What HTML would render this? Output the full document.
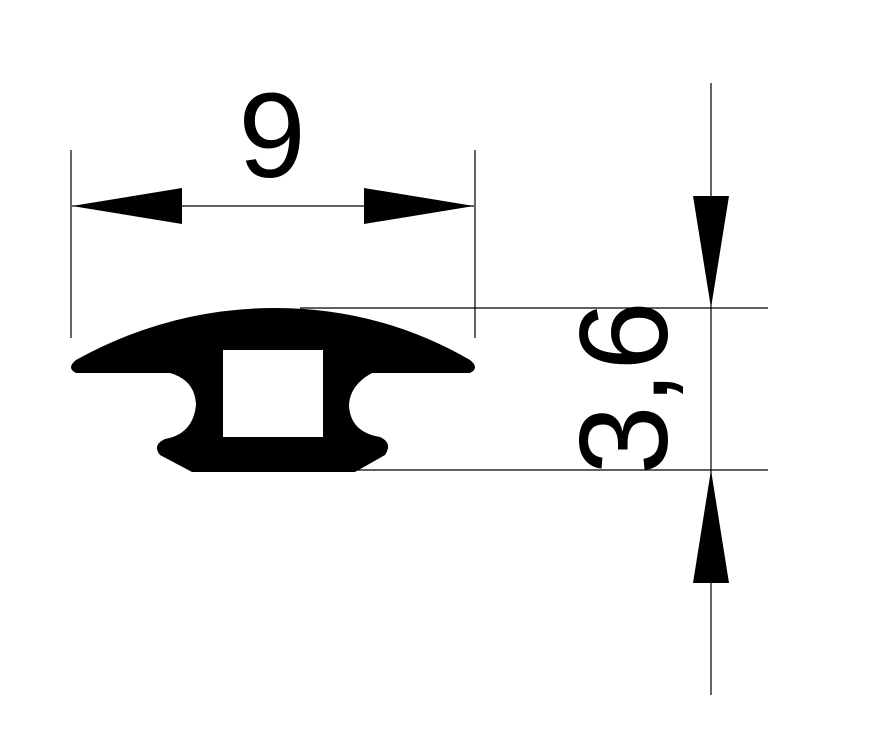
<!DOCTYPE html>
<html><head><style>html,body{margin:0;padding:0;background:#fff;}svg{display:block}</style></head>
<body>
<svg width="874" height="751" viewBox="0 0 874 751" xmlns="http://www.w3.org/2000/svg">
<rect width="874" height="751" fill="#fff"/>
<g stroke="#000" stroke-width="1.2" fill="none">
<line x1="71" y1="150" x2="71" y2="338"/>
<line x1="475" y1="150" x2="475" y2="338"/>
<line x1="72" y1="206" x2="474" y2="206"/>
<line x1="711" y1="83" x2="711" y2="695"/>
<line x1="300" y1="308" x2="768" y2="308"/>
<line x1="355" y1="470" x2="768" y2="470"/>
</g>
<g fill="#000">
<polygon points="72,206 182,188 182,224"/>
<polygon points="474,206 364,188 364,224"/>
<polygon points="711,308 693,196 729,196"/>
<polygon points="711,470 693,583 729,583"/>
<path d="M275,308 Q380,308 470,360 Q480,368 470,373 L372,373 Q350,385 349,405 Q350,432 380,437 Q393,443 385,455 L355,472 L192,472 L160,455 Q152,445 165,439 Q193,434 196,405 Q195,380 170,373 L76,373 Q66,368 76,360 Q170,308 275,308 Z M223,350 L223,437 L323,437 L323,350 Z" fill-rule="evenodd"/>
<text x="272" y="177" font-family="Liberation Sans, sans-serif" font-size="121" text-anchor="middle">9</text>
<text transform="translate(667,388) rotate(-90)" font-family="Liberation Sans, sans-serif" font-size="125" text-anchor="middle">3,6</text>
</g>
</svg>
</body></html>
